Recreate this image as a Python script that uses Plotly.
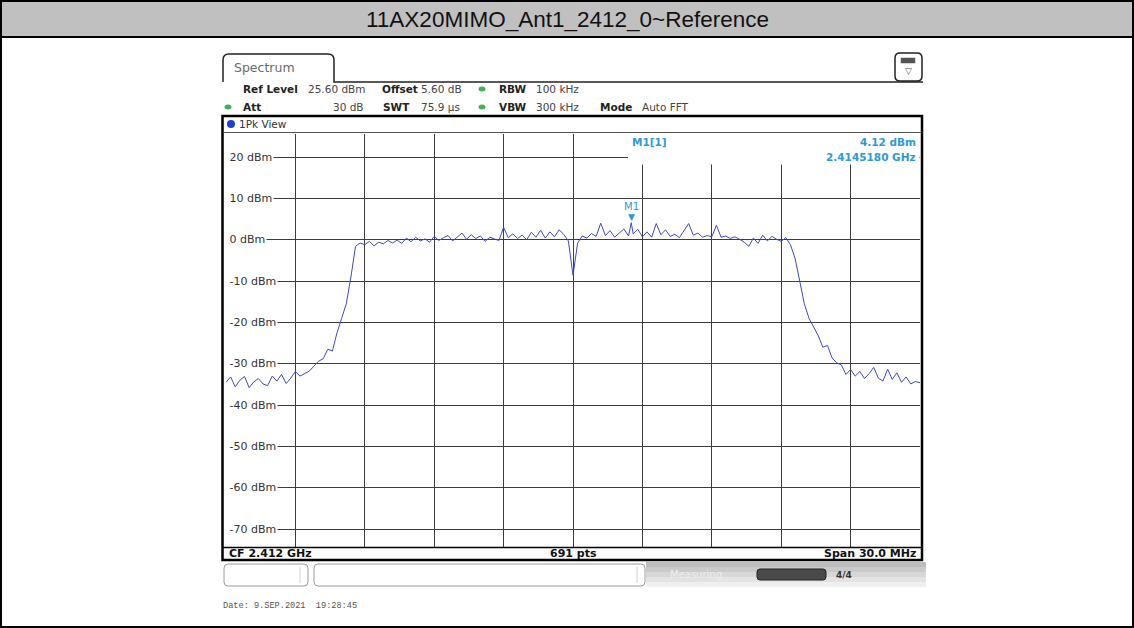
import plotly.graph_objects as go
import numpy as np

# ---------------- data ----------------
start_ghz = 2.397
stop_ghz = 2.427
sweep_step_mhz = 0.2

levels_dbm = [
    -34.5, -33.2, -35.6, -34.0, -33.1, -35.8, -34.4, -33.6, -34.9, -35.3, -33.0, -34.2, -32.6, -34.8, -33.5, -31.9,
    -33.0, -32.3, -31.8, -30.6, -29.4, -28.8, -26.5, -26.9, -22.5, -19.0, -15.5, -9.0, -1.6, -0.8,
    -1.2, -0.4, -1.5, -0.6, -1.0, -0.2, -0.8, -0.1, -0.9, 0.4, -0.5, 0.6, -0.3, 0.2, -0.6, 0.8, -0.2, 0.5, 1.0, -0.3,
    0.7, 1.6, 0.1, 1.2, 0.3, 0.9, -0.4, 0.6, 0.2, -0.2,
    3.0, 0.5, 1.4, 0.3, 1.1, 0.0, 1.8, 0.6, 2.3, 0.4, 1.9, 0.7, 2.4, 1.3, -0.3, -8.6, -0.8, 0.9, 0.4, 1.5,
    0.8, 4.0, 1.0, 2.2, 0.6, 1.7, 2.6, 0.9, 1.4, 2.5,
    0.7, 1.9, 0.6, 3.9, 1.2, 2.4, 0.8, 1.3, 0.5, 2.1, 3.9, 1.1, 1.6, 0.6, 1.0, 0.7, 3.5, 0.6, 0.9, 0.3,
    0.7, 0.1, -0.6, -1.6, 0.4, -0.9, 1.1, -0.3, 0.8, 0.1, -0.4, 0.5,
    -1.2, -4.5, -10.5, -15.5, -19.0, -21.0, -23.2, -26.0, -25.6, -28.6, -29.8, -30.3, -32.6, -31.4, -33.0,
    -31.9, -33.6, -32.4, -30.9, -33.5, -34.2, -31.3, -33.8, -32.2, -34.5, -33.2, -34.9, -34.3, -34.6,
]
marker_freq_ghz = 2.4145180
marker_level_dbm = 4.12
ref_level_dbm = 25.60
y_ticks = [20, 10, 0, -10, -20, -30, -40, -50, -60, -70]

title_text = "11AX20MIMO_Ant1_2412_0~Reference"
date_text = "Date: 9.SEP.2021  19:28:45"

# ---------------- build trace ----------------
n = len(levels_dbm)
freqs = [start_ghz + i * sweep_step_mhz / 1000.0 for i in range(n)]
pairs = sorted(list(zip(freqs, levels_dbm)) + [(marker_freq_ghz, marker_level_dbm)])
fx = [p[0] for p in pairs]
fy = [p[1] for p in pairs]

W, H = 1134, 628


def X(p):
    return p / W


def Y(p):
    return 1 - p / H


SANS = "DejaVu Sans"
CYAN = "#2d9ad6"
GREEN = "#45b05a"

fig = go.Figure()
fig.add_trace(go.Scatter(x=fx, y=fy, mode="lines",
                         line=dict(color="#3a4bc4", width=1), hoverinfo="skip"))

shapes = []
ann = []


def rect(x0, y0, x1, y1, fill=None, line="black", lw=1, layer="above"):
    shapes.append(dict(type="rect", xref="paper", yref="paper",
                       x0=X(x0), x1=X(x1), y0=Y(y1), y1=Y(y0),
                       fillcolor=fill if fill else "rgba(0,0,0,0)",
                       line=dict(color=line, width=lw), layer=layer))


def hline(x0, x1, y, color="black", lw=1):
    shapes.append(dict(type="line", xref="paper", yref="paper",
                       x0=X(x0), x1=X(x1), y0=Y(y), y1=Y(y),
                       line=dict(color=color, width=lw), layer="above"))


def vline(x, y0, y1, color="black", lw=1):
    shapes.append(dict(type="line", xref="paper", yref="paper",
                       x0=X(x), x1=X(x), y0=Y(y0), y1=Y(y1),
                       line=dict(color=color, width=lw), layer="above"))


def rrect_path(x0, y0, x1, y1, r):
    return (f"M {X(x0+r)},{Y(y0)} L {X(x1-r)},{Y(y0)} Q {X(x1)},{Y(y0)} {X(x1)},{Y(y0+r)} "
            f"L {X(x1)},{Y(y1-r)} Q {X(x1)},{Y(y1)} {X(x1-r)},{Y(y1)} "
            f"L {X(x0+r)},{Y(y1)} Q {X(x0)},{Y(y1)} {X(x0)},{Y(y1-r)} "
            f"L {X(x0)},{Y(y0+r)} Q {X(x0)},{Y(y0)} {X(x0+r)},{Y(y0)} Z")


def text(x, y, s, size=10.5, color="#222", anchor="left", bold=False, family=SANS, yanchor="middle", **kw):
    if bold:
        s = f"<b>{s}</b>"
    ann.append(dict(xref="paper", yref="paper", x=X(x), y=Y(y), text=s, showarrow=False,
                    xanchor=anchor, yanchor=yanchor, font=dict(family=family, size=size, color=color), **kw))


def dot(cx, cy, rx, ry, color):
    shapes.append(dict(type="circle", xref="paper", yref="paper",
                       x0=X(cx - rx), x1=X(cx + rx), y0=Y(cy + ry), y1=Y(cy - ry),
                       fillcolor=color, line=dict(width=0), layer="above"))


# outer page frame and title bar
rect(0, 0, W, 37, fill="#c0c0c0", line="black", lw=2)
rect(1, 1, W - 1, H - 1, line="black", lw=2)
text(567, 19, title_text, size=22.5, color="#111", anchor="center", family="Liberation Sans")

# Spectrum tab
tab = (f"M {X(223)},{Y(82)} L {X(223)},{Y(60)} Q {X(223)},{Y(54)} {X(229)},{Y(54)} "
       f"L {X(328)},{Y(54)} Q {X(334)},{Y(54)} {X(334)},{Y(60)} L {X(334)},{Y(82)} L {X(923)},{Y(82)}")
shapes.append(dict(type="path", xref="paper", yref="paper", path=tab,
                   line=dict(color="#222", width=1.5), layer="above"))
text(232, 68, "Spectrum", size=12.5, color="#6a6a6a")

# icon box top right
shapes.append(dict(type="path", xref="paper", yref="paper", path=rrect_path(895, 53, 922, 81, 5),
                   fillcolor="white", line=dict(color="#222", width=1.5), layer="above"))
rect(901, 58, 915, 63, fill="#555", line="#555", lw=0.5)
text(908, 71, "▽", size=9, color="#555", anchor="center")

# header rows
r1, r2 = 89, 107
text(241, r1, "Ref Level", bold=True)
text(306, r1, "25.60 dBm", color="#444")
text(380, r1, "Offset", bold=True)
text(419, r1, "5.60 dB", color="#444")
dot(482, r1, 3.5, 2.5, GREEN)
text(497, r1, "RBW", bold=True)
text(534, r1, "100 kHz", color="#444")

dot(228, r2, 3.5, 2.5, GREEN)
text(241, r2, "Att", bold=True)
text(366, r2, "30 dB", color="#444", anchor="right")
text(381, r2, "SWT", bold=True)
text(419, r2, "75.9 µs", color="#444")
dot(482, r2, 3.5, 2.5, GREEN)
text(497, r2, "VBW", bold=True)
text(534, r2, "300 kHz", color="#444")
text(598, r2, "Mode", bold=True)
text(640, r2, "Auto FFT", color="#444")

# 1Pk View row
dot(231, 124, 4, 4, "#1f3fd0")
text(237, 124, "1Pk View", color="#333")

# frame of the measurement window
rect(222.5, 116, 922, 560, line="black", lw=2.5)
hline(223, 921, 132.5, color="#555", lw=1)
hline(223, 921, 547.5, color="black", lw=1.5)

# marker info box (covers grid)
rect(628, 133.3, 919.5, 164.5, fill="white", line="white", lw=0)
text(630, 142, "M1[1]", size=10.5, color=CYAN, bold=True)
text(918, 142, "4.12 dBm", size=10.5, color=CYAN, bold=True, anchor="right")
text(918, 157, "2.4145180 GHz", size=10.5, color=CYAN, bold=True, anchor="right")

# bottom bar texts
text(227, 553.5, "CF 2.412 GHz", size=11, color="#111", bold=True)
text(573, 553.5, "691 pts", size=11, color="#111", bold=True, anchor="center")
text(918, 553.5, "Span 30.0 MHz", size=11, color="#111", bold=True, anchor="right")

# status bar
shapes.append(dict(type="path", xref="paper", yref="paper", path=rrect_path(224, 564, 308, 586, 4),
                   fillcolor="white", line=dict(color="#9a9a9a", width=1), layer="above"))
vline(300, 567, 583, color="#d0d0d0")
shapes.append(dict(type="path", xref="paper", yref="paper", path=rrect_path(314, 564, 645, 586, 4),
                   fillcolor="white", line=dict(color="#9a9a9a", width=1), layer="above"))
vline(637, 567, 583, color="#d0d0d0")
for (a, b, c) in [(562, 567, "#bdbdbd"), (567, 572, "#cacaca"), (572, 577, "#d7d7d7"),
                  (577, 582, "#e3e3e3"), (582, 587, "#efefef")]:
    rect(646, a, 926, b, fill=c, line=c, lw=0)
text(668, 574, "Measuring...", size=10, color="#eeeeee")
shapes.append(dict(type="path", xref="paper", yref="paper", path=rrect_path(757, 569, 826, 580, 3),
                   fillcolor="#4a4a4a", line=dict(color="#222", width=1), layer="above"))
text(834, 574.5, "4/4", size=9, color="#333", bold=True)

# date
text(221, 606, date_text, size=8.6, color="#555", family="Liberation Mono")

# y tick labels (inside plot, masking the grid)
for v in y_ticks:
    ann.append(dict(xref="paper", yref="y", x=X(224), y=v, text=f"&nbsp;{v} dBm", showarrow=False,
                    xanchor="left", yanchor="middle", bgcolor="white", borderpad=1,
                    font=dict(family=SANS, size=11, color="#333")))

# marker M1
ann.append(dict(xref="x", yref="y", x=marker_freq_ghz, y=marker_level_dbm, text="▼", showarrow=False,
                yanchor="bottom", yshift=-1, font=dict(family=SANS, size=9, color=CYAN)))
ann.append(dict(xref="x", yref="y", x=marker_freq_ghz, y=marker_level_dbm, text="M1", showarrow=False,
                yanchor="bottom", yshift=9, font=dict(family=SANS, size=10, color=CYAN)))

fig.update_layout(
    width=W, height=H, margin=dict(l=0, r=0, t=0, b=0),
    paper_bgcolor="white", plot_bgcolor="white", showlegend=False,
    xaxis=dict(domain=[X(226), X(920)], range=[start_ghz, stop_ghz], tick0=start_ghz, dtick=0.003,
               showgrid=True, gridcolor="#3c3c3c", gridwidth=1, zeroline=False,
               showticklabels=False, ticks="", showline=False, fixedrange=True),
    yaxis=dict(domain=[Y(547.2), Y(133.9)], range=[ref_level_dbm - 100, ref_level_dbm], tick0=0, dtick=10,
               showgrid=True, gridcolor="#3c3c3c", gridwidth=1, zeroline=False,
               showticklabels=False, ticks="", showline=False, fixedrange=True),
    shapes=shapes, annotations=ann,
)

fig.write_html("out.html", config={"displayModeBar": False},
               post_script="document.body.style.margin='0';document.body.style.overflow='hidden';")
